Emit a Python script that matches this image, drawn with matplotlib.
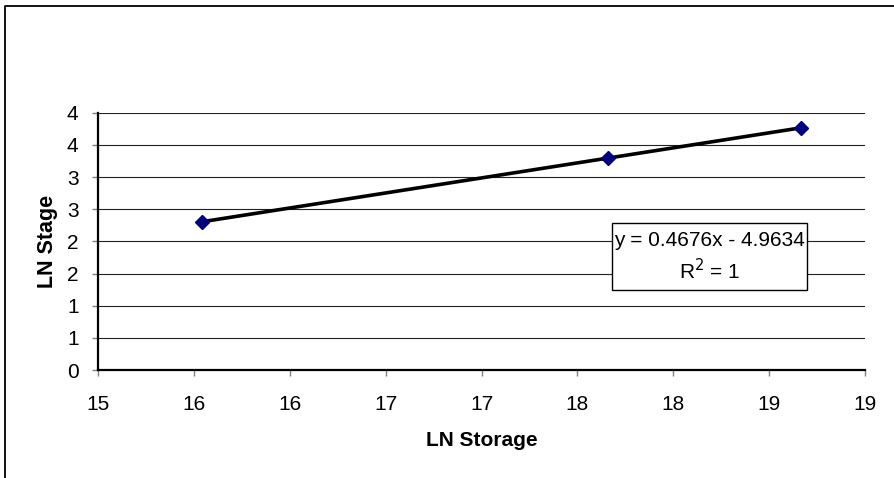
import numpy as np
import matplotlib
matplotlib.use("Agg")
import matplotlib.pyplot as plt
from matplotlib.lines import Line2D
from matplotlib.patches import Rectangle

# Observed values (natural-log transformed)
ln_storage = [15.54, 17.66, 18.665]
ln_stage = [2.303, 3.295, 3.764]

x_ticks = [15.0, 15.5, 16.0, 16.5, 17.0, 17.5, 18.0, 18.5, 19.0]
x_tick_labels = ['15', '16', '16', '17', '17', '18', '18', '19', '19']
y_ticks = [0.0, 0.5, 1.0, 1.5, 2.0, 2.5, 3.0, 3.5, 4.0]
y_tick_labels = ['0', '1', '1', '2', '2', '3', '3', '4', '4']

x_title = 'LN Storage'
y_title = 'LN Stage'

plt.rcParams['font.family'] = ['Liberation Sans', 'DejaVu Sans']

W, H = 894, 478
fig = plt.figure(figsize=(W / 100, H / 100), dpi=100)
fig.patch.set_facecolor('white')

# plot area in pixel terms
left_px, right_px, top_px, bottom_px = 98, 865, 112.7, 370
ax = fig.add_axes([left_px / W, (H - bottom_px) / H,
                   (right_px - left_px) / W, (bottom_px - top_px) / H])


def ax_x(px):
    return (px - left_px) / (right_px - left_px)


def ax_y(px):
    return (bottom_px - px) / (bottom_px - top_px)


ax.set_xlim(15, 19)
ax.set_ylim(0, 4)
ax.set_xticks(x_ticks)
ax.set_xticklabels(x_tick_labels)
ax.set_yticks(y_ticks)
ax.set_yticklabels(y_tick_labels)

for side in ('top', 'right'):
    ax.spines[side].set_visible(False)
for side in ('left', 'bottom'):
    ax.spines[side].set_color('black')
    ax.spines[side].set_linewidth(1.6)
    ax.spines[side].set_zorder(4)

ax.yaxis.grid(True, color='#222222', linewidth=0.8)
ax.set_axisbelow(True)

ax.tick_params(axis='x', direction='out', length=4, width=1, color='#808080',
               labelsize=15, pad=14, labelcolor='black')
ax.tick_params(axis='y', direction='out', length=4, width=1, color='#808080',
               labelsize=15, pad=10, labelcolor='black')

# linear trendline fitted to the data, spanning the data range
slope, intercept = np.polyfit(ln_storage, ln_stage, 1)
xs = np.array([min(ln_storage), max(ln_storage)])
ax.plot(xs, slope * xs + intercept, color='black', linewidth=2.6,
        solid_capstyle='butt', zorder=3)

ax.plot(ln_storage, ln_stage, linestyle='none', marker='D', markersize=7,
        color='#000080', markeredgecolor='#000080', zorder=5)

ax.set_xlabel(x_title, fontsize=15, fontweight='bold')
ax.set_ylabel(y_title, fontsize=15.5, fontweight='bold')
ax.xaxis.set_label_coords(0.5, ax_y(440))
ax.xaxis.label.set_va('center')
ax.yaxis.set_label_coords(ax_x(47), 0.5)
ax.yaxis.label.set_va('center')

# regression equation box
bx0, bx1, by0, by1 = 612, 807, 223, 290
ax.add_patch(Rectangle((ax_x(bx0), ax_y(by1)), ax_x(bx1) - ax_x(bx0),
                       ax_y(by0) - ax_y(by1), transform=ax.transAxes,
                       facecolor='white', edgecolor='black', linewidth=1.0,
                       zorder=6, clip_on=False))
eq_cx = ax_x((bx0 + bx1) / 2)
ax.text(eq_cx, ax_y(241), 'y = 0.4676x - 4.9634', transform=ax.transAxes,
        ha='center', va='center', fontsize=15, zorder=7)
ax.text(eq_cx, ax_y(271), 'R$^2$ = 1', transform=ax.transAxes,
        ha='center', va='center', fontsize=15, zorder=7)

# outer chart border (left and top edges)
fig.add_artist(Line2D([4.5 / W, 4.5 / W, 1.0], [0.0, 1 - 5.5 / H, 1 - 5.5 / H],
                      transform=fig.transFigure, color='black', linewidth=1.3))

fig.savefig('out.png', dpi=100, facecolor='white')
